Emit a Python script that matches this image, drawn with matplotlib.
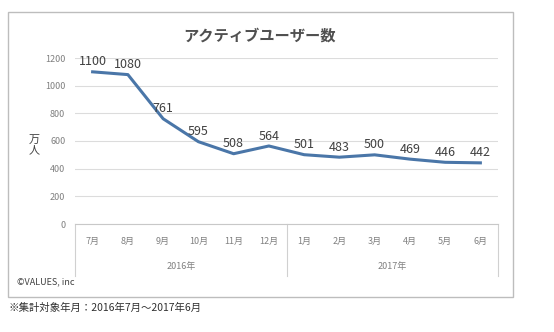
import matplotlib
matplotlib.use("Agg")
import matplotlib.pyplot as plt
from matplotlib.patches import Rectangle

plt.rcParams['font.family'] = ['Noto Sans CJK JP', 'DejaVu Sans']

months = ['7月', '8月', '9月', '10月', '11月', '12月', '1月', '2月', '3月', '4月', '5月', '6月']
years = ['2016年', '2017年']
users = [1100, 1080, 761, 595, 508, 564, 501, 483, 500, 469, 446, 442]
yticks = [0, 200, 400, 600, 800, 1000, 1200]

W, H = 554, 332
fig = plt.figure(figsize=(W / 100, H / 100), dpi=100)

# outer frame
fig.patches.append(Rectangle((8 / W, 1 - 297 / H), 505 / W, 285 / H, transform=fig.transFigure,
                             fill=False, edgecolor='#bdbdbd', linewidth=1))

ax = fig.add_axes([75 / W, 1 - 224 / H, 423 / W, 166 / H])
x = list(range(len(months)))
ax.plot(x, users, color='#4a76a8', linewidth=2.2)
for xi, v in zip(x, users):
    ax.text(xi, v + 25, str(v), ha='center', va='bottom', fontsize=9, color='#404040')

ax.set_xlim(-0.5, 11.5)
ax.set_ylim(0, 1200)
ax.set_yticks(yticks)
ax.set_yticklabels([str(t) for t in yticks], fontsize=6.5, color='#808080')
ax.tick_params(axis='y', length=0, pad=7)
ax.set_xticks([])
ax.grid(axis='y', color='#dcdcdc', linewidth=0.8)
for s in ['top', 'right', 'left']:
    ax.spines[s].set_visible(False)
ax.spines['bottom'].set_color('#c8c8c8')

# two-level category axis
tr = ax.get_xaxis_transform()
depth = -52 / 166
for b in [-0.5, 5.5, 11.5]:
    ax.plot([b, b], [0, depth], transform=tr, color='#d0d0d0', linewidth=0.8, clip_on=False)
for xi, m in zip(x, months):
    ax.text(xi, -17 / 166, m, transform=tr, ha='center', va='center', fontsize=6.5, color='#808080')
for i, yr in enumerate(years):
    ax.text(2.5 + 6 * i, -42 / 166, yr, transform=tr, ha='center', va='center', fontsize=6.5, color='#808080')

fig.text(260 / W, 1 - 36 / H, 'アクティブユーザー数', ha='center', va='center', fontsize=11,
         fontweight='bold', color='#505050')
fig.text(34 / W, 1 - 145 / H, '万\n人', ha='center', va='center', fontsize=8, color='#404040', linespacing=1.1)
fig.text(17 / W, 1 - 282 / H, '©VALUES, inc', ha='left', va='center', fontsize=6.5, color='#404040')
fig.text(8 / W, 1 - 308 / H, '※集計対象年月：2016年7月～2017年6月', ha='left', va='center', fontsize=7.5, color='#303030')

fig.savefig('out.png', dpi=100)
